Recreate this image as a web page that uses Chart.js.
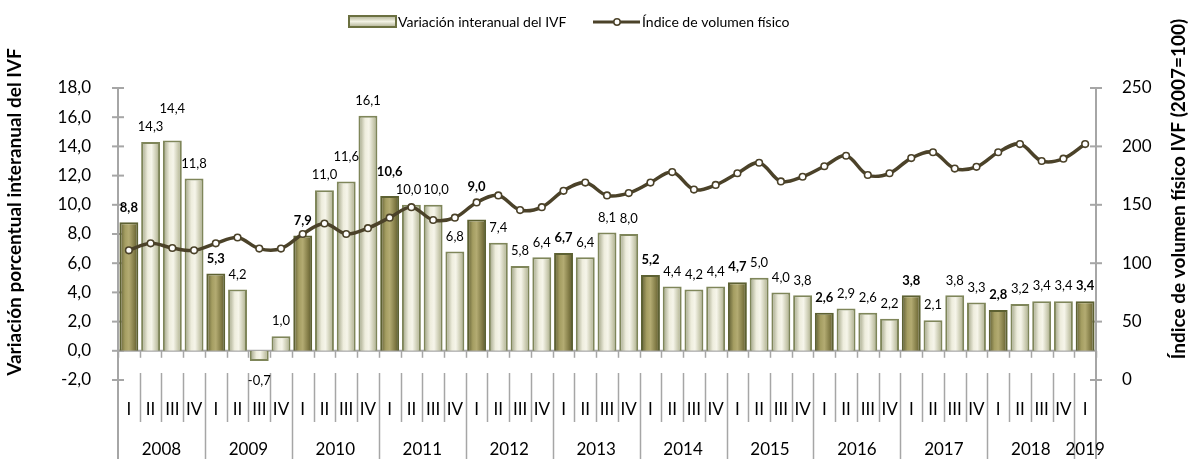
<!DOCTYPE html>
<html><head><meta charset="utf-8">
<script src="https://cdn.jsdelivr.net/npm/chart.js@4.4.1/dist/chart.umd.min.js"></script>
<style>html,body{margin:0;padding:0;background:#fff}#wrap{width:1192px;height:459px}</style>
</head><body><div id="wrap"><canvas id="c" width="1192" height="459"></canvas></div>
<script>
const years = ['2008','2009','2010','2011','2012','2013','2014','2015','2016','2017','2018','2019'];
const quarterLabels = [
  'I','II','III','IV','I','II','III','IV','I','II','III','IV','I','II','III','IV',
  'I','II','III','IV','I','II','III','IV','I','II','III','IV','I','II','III','IV',
  'I','II','III','IV','I','II','III','IV','I','II','III','IV','I'];
const variacion = [
  8.8,14.3,14.4,11.8, 5.3,4.2,-0.7,1.0, 7.9,11.0,11.6,16.1, 10.6,10.0,10.0,6.8,
  9.0,7.4,5.8,6.4, 6.7,6.4,8.1,8.0, 5.2,4.4,4.2,4.4, 4.7,5.0,4.0,3.8,
  2.6,2.9,2.6,2.2, 3.8,2.1,3.8,3.3, 2.8,3.2,3.4,3.4, 3.4];
const indice = [
  111,117,113,111, 117,122,112.5,112.5, 125,134,125,130, 139,148,137,139,
  152,158,145.5,148, 162,169,158,160, 169,178,163,167, 177,186,170,174,
  183,192,175.5,177, 190,195,181,182.5, 195,202,187.5,189.5, 202];
const seriesNames = ['Variación interanual del IVF','Índice de volumen físico'];
const axisTitles = ['Variación porcentual interanual del IVF','Índice de volumen físico IVF (2007=100)'];

const FONT = 'Lato, "Liberation Sans", sans-serif';
const AXIS = '#a6a6a6';
const LINEC = '#4b4229';
const BARPCT = 0.87;
const fmt = v => v.toFixed(1).replace('.', ',');

function barFill(ctx) {
  const chart = ctx.chart;
  if (ctx.type !== 'data' || !chart.chartArea) return '#cfd0b0';
  const xs = chart.scales.x;
  const cx = xs.getPixelForValue(ctx.dataIndex);
  const hw = (xs.width / xs.ticks.length) * BARPCT / 2;
  const g = chart.ctx.createLinearGradient(cx - hw, 0, cx + hw, 0);
  if (ctx.dataIndex % 4 === 0) {
    g.addColorStop(0, '#5a5930'); g.addColorStop(0.3, '#a59e62');
    g.addColorStop(0.5, '#b3ab72'); g.addColorStop(0.8, '#7f7944'); g.addColorStop(1, '#55542c');
  } else {
    g.addColorStop(0, '#9a9d7e'); g.addColorStop(0.35, '#eeeddd');
    g.addColorStop(0.55, '#f6f5ea'); g.addColorStop(0.85, '#c2c3a6'); g.addColorStop(1, '#8e9173');
  }
  return g;
}
function barBorder(ctx) {
  return (ctx.dataIndex % 4 === 0) ? '#5d6132' : '#7f865a';
}

const decor = {
  id: 'decor',
  beforeDatasetsDraw(chart) {
    const c = chart.ctx, a = chart.chartArea, xs = chart.scales.x, y = chart.scales.y, y2 = chart.scales.y2;
    const n = xs.ticks.length, cw = (a.right - a.left) / n;
    const y0 = y.getPixelForValue(0);
    c.save();
    c.strokeStyle = AXIS; c.lineWidth = 2;
    c.beginPath(); c.moveTo(a.left, y0); c.lineTo(a.right, y0); c.stroke();
    c.lineWidth = 1.5;
    for (let k = 0; k <= n; k++) {
      const bx = Math.round(a.left + k * cw) + 0.5;
      c.beginPath(); c.moveTo(bx, y0); c.lineTo(bx, y0 + 7); c.stroke();
      if (k > 0 && k < n) {
        c.beginPath(); c.moveTo(bx, a.bottom - 7);
        c.lineTo(bx, k % 4 === 0 ? chart.height : a.bottom + 42); c.stroke();
      }
    }
    c.lineWidth = 2;
    c.beginPath(); c.moveTo(a.left, a.top); c.lineTo(a.left, chart.height); c.stroke();
    c.beginPath(); c.moveTo(a.right, a.top); c.lineTo(a.right, chart.height); c.stroke();
    y.ticks.forEach(t => { const p = y.getPixelForValue(t.value);
      c.beginPath(); c.moveTo(a.left - 6, p); c.lineTo(a.left + 6, p); c.stroke(); });
    y2.ticks.forEach(t => { const p = y2.getPixelForValue(t.value);
      c.beginPath(); c.moveTo(a.right - 6, p); c.lineTo(a.right + 6, p); c.stroke(); });
    c.restore();
  },
  afterDraw(chart) {
    const c = chart.ctx, a = chart.chartArea, xs = chart.scales.x;
    const n = xs.ticks.length;
    c.save();
    // data labels with simple collision avoidance
    const bars = chart.getDatasetMeta(0).data;
    const pts = chart.getDatasetMeta(1).data;
    const H = 14;
    const labs = bars.map((el, i) => {
      const v = variacion[i];
      c.font = (i % 4 === 0 ? 'bold ' : '') + '13px ' + FONT;
      const w = c.measureText(fmt(v)).width;
      let ty = v >= 0 ? el.y - 15 : el.y + 20;
      const p = pts[i];
      if (v >= 0 && Math.abs(p.y - ty) < H / 2 + 5) ty = p.y - 16;
      return { x: el.x, y: ty, w, v, i };
    });
    for (let i = 1; i < labs.length; i++) {
      const A = labs[i - 1], B = labs[i];
      const ox = (A.w + B.w) / 2 - (B.x - A.x);
      if (ox > 0 && Math.abs(A.y - B.y) < H) {
        if (A.v === B.v) { A.x -= ox / 2 + 1; B.x += ox / 2 + 1; }
        else if (B.v > A.v) B.y = A.y - 18;
        else A.y = B.y - 18;
      }
    }
    c.fillStyle = '#000'; c.textAlign = 'center'; c.textBaseline = 'middle';
    labs.forEach(L => {
      c.font = (L.i % 4 === 0 ? 'bold ' : '') + '13px ' + FONT;
      c.fillText(fmt(L.v), L.x, L.y);
    });
    // year labels
    c.font = '17px ' + FONT;
    years.forEach((yr, j) => {
      const first = j * 4, last = Math.min(first + 3, n - 1);
      const cx = (xs.getPixelForValue(first) + xs.getPixelForValue(last)) / 2;
      c.fillText(yr, cx, 450);
    });
    // axis titles
    c.font = 'bold 19px ' + FONT;
    c.save(); c.translate(15, 212); c.rotate(-Math.PI / 2); c.fillText(axisTitles[0], 0, 0); c.restore();
    c.save(); c.translate(1179, 189); c.rotate(-Math.PI / 2); c.fillText(axisTitles[1], 0, 0); c.restore();
    // legend
    c.font = '14px ' + FONT; c.textAlign = 'left';
    const g = c.createLinearGradient(0, 15, 0, 28);
    g.addColorStop(0, '#a3a684'); g.addColorStop(0.5, '#f3f2e4'); g.addColorStop(1, '#a3a684');
    c.fillStyle = g; c.fillRect(349, 16, 47, 11);
    c.strokeStyle = '#6b7040'; c.lineWidth = 2; c.strokeRect(349, 16, 47, 11);
    c.fillStyle = '#000'; c.fillText(seriesNames[0], 398, 22);
    c.strokeStyle = LINEC; c.lineWidth = 3;
    c.beginPath(); c.moveTo(593, 22); c.lineTo(640, 22); c.stroke();
    c.beginPath(); c.arc(617, 22, 3.2, 0, Math.PI * 2); c.fillStyle = '#fff'; c.fill();
    c.lineWidth = 1.5; c.stroke();
    c.fillStyle = '#000'; c.fillText(seriesNames[1], 642, 22);
    c.restore();
  }
};

new Chart(document.getElementById('c'), {
  type: 'bar',
  data: {
    labels: quarterLabels,
    datasets: [
      { type: 'bar', label: seriesNames[0], data: variacion, yAxisID: 'y', order: 1,
        backgroundColor: barFill, borderColor: barBorder, borderWidth: 2,
        barPercentage: BARPCT, categoryPercentage: 1 },
      { type: 'line', label: seriesNames[1], data: indice, yAxisID: 'y2', order: 0,
        borderColor: LINEC, borderWidth: 3.5, tension: 0.35,
        pointRadius: 3.3, pointBackgroundColor: '#fff', pointBorderColor: LINEC, pointBorderWidth: 1.6 }
    ]
  },
  options: {
    responsive: false, devicePixelRatio: 1, animation: false,
    layout: { padding: { top: 88, left: 0, right: 0, bottom: 0 } },
    plugins: { legend: { display: false }, tooltip: { enabled: false } },
    scales: {
      x: { offset: true, grid: { display: false }, border: { display: false },
        ticks: { autoSkip: false, maxRotation: 0, minRotation: 0, color: '#000', padding: 11,
          font: { family: FONT, size: 17 } },
        afterFit(s) { s.height = 79; } },
      y: { position: 'left', min: -2, max: 18, grid: { display: false }, border: { display: false },
        ticks: { stepSize: 2, color: '#000', padding: 19, font: { family: FONT, size: 17 },
          callback: v => fmt(v) },
        afterFit(s) { s.width = 118; } },
      y2: { position: 'right', min: 0, max: 250, grid: { display: false }, border: { display: false },
        ticks: { stepSize: 50, color: '#000', padding: 18, font: { family: FONT, size: 17 } },
        afterFit(s) { s.width = 96; } }
    }
  },
  plugins: [decor]
});
</script></body></html>
